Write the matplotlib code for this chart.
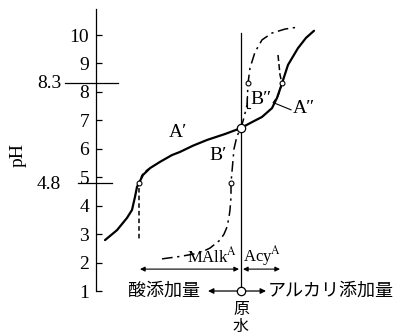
import matplotlib
matplotlib.use('Agg')
import matplotlib.pyplot as plt
import numpy as np

plt.rcParams['font.family'] = ['Liberation Serif', 'DejaVu Serif']
plt.rcParams['mathtext.fontset'] = 'stix'
jp = ['Noto Sans CJK JP', 'DejaVu Sans']

# titration curve of raw water (A', A'')
a_x = [-13.6, -12.4, -11.4, -10.9, -10.6, -10.4, -10.2, -9.8, -9.1, -8.1, -6.9, -6.1,
       -4.8, -3.4, -1.6, 0.0, 1.0, 2.1, 3.1, 3.6, 4.1, 4.7, 5.7, 6.5, 7.3]
a_ph = [2.79, 3.14, 3.57, 3.85, 4.31, 4.66, 4.80, 5.08, 5.32, 5.54, 5.78, 5.89,
        6.11, 6.31, 6.52, 6.73, 6.92, 7.12, 7.43, 7.79, 8.30, 8.95, 9.54, 9.90, 10.15]
# B', B'' curve
b_x = [-7.9, -6.0, -4.1, -3.1, -2.1, -1.7, -1.4, -1.2, -1.1, -1.0, -1.0, -0.85, -0.7, -0.4, 0.0,
       0.3, 0.6, 0.7, 0.9, 1.4, 2.1, 3.1, 4.4, 5.7]
b_ph = [2.13, 2.22, 2.34, 2.51, 2.79, 3.00, 3.25, 3.60, 3.85, 4.30, 4.80, 5.40, 6.00, 6.45, 6.73,
        7.10, 7.54, 8.30, 8.84, 9.40, 9.83, 10.07, 10.21, 10.28]
# dashed branches
dl_x = [-10.2, -10.2, -10.2, -10.2, -9.9, -9.4, -9.1]
dl_ph = [2.85, 3.5, 4.2, 4.8, 5.07, 5.25, 5.32]
dr_x = [3.7, 3.9, 4.1, 3.7, 3.2]
dr_ph = [9.3, 8.6, 8.3, 7.86, 7.6]
# marked points
pt_x = [-10.2, -1.0, 0.7, 4.1]
pt_ph = [4.8, 4.8, 8.3, 8.3]
ph_ticks = [1, 2, 3, 4, 5, 6, 7, 8, 9, 10]
ref_ph = [8.3, 4.8]
malk = -10.1
acy = 3.9

fig = plt.figure(figsize=(3.99, 3.36), dpi=100)
ax = fig.add_axes([0, 0, 1, 1])
ax.set_xlim(-24.1, 15.8)
ax.set_ylim(-0.582, 11.232)

for s in ['top', 'right', 'bottom']:
    ax.spines[s].set_visible(False)
ax.spines['left'].set_position(('data', -14.5))
ax.spines['left'].set_bounds(1, 10.9)
ax.spines['left'].set_linewidth(0.9)
ax.set_xticks([])
ax.set_yticks(ph_ticks)
ax.tick_params(axis='y', direction='in', length=4, width=0.9, pad=5, labelsize=14)

ax.plot([-17.6, -12.3], [ref_ph[0]] * 2, color='k', lw=0.9)
ax.plot([-16.3, -12.9], [ref_ph[1]] * 2, color='k', lw=0.9)
ax.text(-18.0, ref_ph[0], '8.3', fontsize=14, ha='right', va='center')
ax.text(-18.0, ref_ph[1] - 0.07, '4.8', fontsize=14, ha='right', va='center')
ax.text(-22.3, 5.78, 'pH', fontsize=14, rotation=90, ha='center', va='center')

# raw water line
ax.plot([0, 0], [1.0, 10.08], color='k', lw=0.9)

ax.plot(a_x, a_ph, color='k', lw=1.6, solid_capstyle='round', solid_joinstyle='round')
ax.plot(b_x, b_ph, color='k', lw=1.1, dashes=(7, 3, 1.5, 3))
ax.plot(dl_x, dl_ph, color='k', lw=1.1, dashes=(3, 2))
ax.plot(dr_x, dr_ph, color='k', lw=1.1, dashes=(4, 2))

ax.plot(pt_x, pt_ph, 'o', ms=3.5, mfc='white', mec='k', mew=0.8, zorder=5)
ax.plot([0], [6.73], 'o', ms=6, mfc='white', mec='k', mew=0.9, zorder=5)

# labels
ax.text(-6.3, 6.59, 'A\u2032', fontsize=14, ha='center', va='center')
ax.text(-2.3, 5.78, 'B\u2032', fontsize=14, ha='center', va='center')
ax.text(2.0, 7.72, 'B\u2033', fontsize=14, ha='center', va='center')
ax.text(6.3, 7.40, 'A\u2033', fontsize=14, ha='center', va='center')
ax.plot([3.4, 5.0], [7.6, 7.37], color='k', lw=0.8)
ax.plot([0.62, 0.62, 0.95], [7.85, 7.45, 7.45], color='k', lw=0.8)

# MAlk / Acy arrows
arr2 = dict(arrowstyle='<|-|>', lw=0.8, color='k', mutation_scale=7, shrinkA=0, shrinkB=0)
ax.annotate('', xy=(malk, 1.77), xytext=(-0.2, 1.77), arrowprops=arr2)
ax.annotate('', xy=(0.2, 1.77), xytext=(acy, 1.77), arrowprops=arr2)
ax.text(-2.9, 2.22, r'MAlk$^{\mathrm{A}}$', fontsize=12, ha='center', va='center')
ax.text(2.1, 2.22, r'Acy$^{\mathrm{A}}$', fontsize=12, ha='center', va='center')

# bottom arrows
arr1 = dict(arrowstyle='-|>', lw=0.9, color='k', mutation_scale=8, shrinkA=0, shrinkB=0)
ax.annotate('', xy=(-3.3, 1.0), xytext=(0, 1.0), arrowprops=arr1)
ax.annotate('', xy=(2.5, 1.0), xytext=(0, 1.0), arrowprops=arr1)
ax.plot([0], [1.0], 'o', ms=6, mfc='white', mec='k', mew=0.9, zorder=5)
ax.text(-4.1, 1.0, '酸添加量', family=jp, fontsize=13, ha='right', va='center')
ax.text(2.7, 1.0, 'アルカリ添加量', family=jp, fontsize=13, ha='left', va='center')
ax.text(0, 0.36, '原', family=jp, fontsize=11.5, ha='center', va='center')
ax.text(0, -0.24, '水', family=jp, fontsize=11.5, ha='center', va='center')

fig.savefig('out.png', dpi=100)
